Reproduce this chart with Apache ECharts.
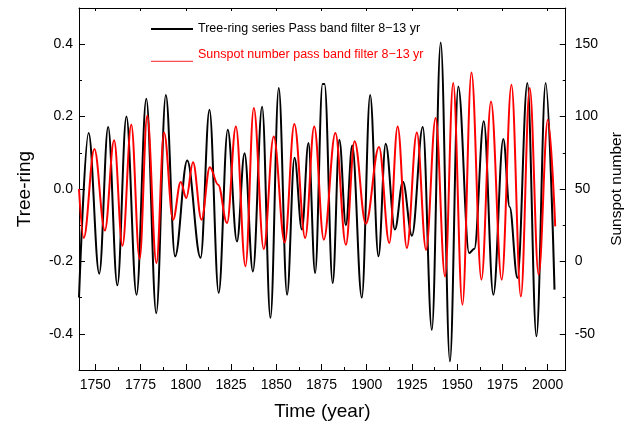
<!DOCTYPE html>
<html>
<head>
<meta charset="utf-8">
<script src="https://cdn.jsdelivr.net/npm/echarts@6/dist/echarts.min.js"></script>
<style>html,body{margin:0;padding:0;background:#fff}#c{width:633px;height:426px}</style>
</head>
<body>
<div id="c"></div>
<script>
// Tree-ring series (left axis), turning points
const treeYears = [1741,1746.3,1752.2,1757.1,1762.2,1767.2,1772.8,1778.2,1783.7,1789.0,1794.1,1800.8,1808.2,1813.1,1818.2,1823.2,1828.3,1832.5,1837.1,1842.2,1846.8,1851.4,1856.0,1860.1,1864.2,1867.8,1871.5,1875.6,1876.7,1881.2,1884.9,1888.5,1892.0,1897.3,1901.9,1906.5,1910.5,1915.6,1920.0,1925.0,1931.0,1936.0,1940.9,1946.0,1950.6,1956.6,1959.5,1964.7,1970.0,1975.5,1979.0,1983.3,1988.8,1993.8,1998.9,2003.8];
const treeVals  = [-0.30,0.155,-0.234,0.171,-0.266,0.20,-0.292,0.249,-0.343,0.26,-0.186,0.079,-0.19,0.219,-0.287,0.164,-0.145,0.099,-0.228,0.227,-0.356,0.279,-0.292,0.086,-0.112,0.127,-0.232,0.29,0.29,-0.26,0.136,-0.10,0.12,-0.30,0.26,-0.186,0.125,-0.112,0.02,-0.129,0.171,-0.389,0.405,-0.476,0.283,-0.177,-0.165,0.187,-0.292,0.138,-0.05,-0.246,0.293,-0.407,0.293,-0.278];
// Sunspot number series (right axis)
const sunYears = [1741,1743.6,1749.5,1755.3,1760.4,1765.0,1769.9,1774.5,1778.7,1783.8,1788.0,1793.0,1797.2,1800.3,1804.0,1808.7,1813.3,1817.9,1822.8,1827.7,1833.0,1837.6,1843.1,1848.6,1854.7,1860.0,1866.0,1871.0,1876.3,1882.7,1888.5,1893.3,1899.5,1906.8,1912.5,1917.1,1922.2,1927.7,1932.8,1938.1,1943.3,1947.8,1952.9,1957.9,1963.4,1968.7,1974.6,1980.0,1985.2,1990.1,1995.0,2000.1,2004.2];
const sunVals  = [50,16.2,77.6,21.4,83.6,10.8,94.4,1.7,100.6,-1.1,89,28.8,54.8,43.8,68.4,28.8,65,53,26.5,93.2,-3.4,106,8.6,86.3,13.1,94.9,16.2,93.2,15,88.7,11.5,82.9,26,79,12.7,93.2,9.3,89,8.1,99,-10.4,123.2,-29.9,130.5,-12.6,110.5,-12.6,122,-24.2,119.7,-9.2,97.9,24.2];
// Tick values
const xMajor = [1750,1775,1800,1825,1850,1875,1900,1925,1950,1975,2000];
const xMinor = [1762.5,1787.5,1812.5,1837.5,1862.5,1887.5,1912.5,1937.5,1962.5,1987.5];
const yLeftMajor = [-0.4,-0.2,0,0.2,0.4];
const yLeftMinor = [-0.3,-0.1,0.1,0.3];
const yRightMajor = [-50,0,50,100,150];
const yRightMinor = [-25,25,75,125];

const treeName = 'Tree-ring series Pass band filter 8\u221213 yr';
const sunName = 'Sunspot number pass band filter 8\u221213 yr';
const FF = 'Liberation Sans, Arial, sans-serif';
const line = {lineStyle:{color:'#000',width:1}};

function xAx(pos, ticks, len, showLine, labels) {
  return {type:'value', gridIndex:0, position:pos, min:1741, max:2010,
    axisLine:{show:showLine, onZero:false, ...line}, splitLine:{show:false},
    axisTick:{show:true, inside:true, length:len, customValues:ticks, lineStyle:{color:'#000',width:1}},
    axisLabel: labels ? {show:true, customValues:ticks, fontSize:14, color:'#000', fontFamily:FF, margin:8, formatter:v => String(v)} : {show:false}};
}
function yAx(pos, min, max, ticks, len, showLine, labels, fmt) {
  return {type:'value', gridIndex:0, position:pos, min:min, max:max,
    axisLine:{show:showLine, onZero:false, ...line}, splitLine:{show:false},
    axisTick:{show:true, inside:true, length:len, customValues:ticks, lineStyle:{color:'#000',width:1}},
    axisLabel: labels ? {show:true, customValues:ticks, fontSize:14, color:'#000', fontFamily:FF, margin:pos==='left'?6:9, formatter:fmt} : {show:false}};
}

const xa0 = xAx('bottom', xMajor, 6, true, true);
Object.assign(xa0, {name:'Time (year)', nameLocation:'middle', nameGap:32, nameTextStyle:{fontSize:19, color:'#000', fontFamily:FF}});
const xa1 = xAx('bottom', xMinor, 3, false, false);
const xa2 = xAx('top', xMajor, 3, true, false);

const ya0 = yAx('left', -0.5, 0.5, yLeftMajor, 6, true, true, v => v.toFixed(1));
Object.assign(ya0, {name:'Tree-ring', nameLocation:'middle', nameGap:45, nameTextStyle:{fontSize:19, color:'#000', fontFamily:FF}});
const ya1 = yAx('left', -0.5, 0.5, yLeftMinor, 3, false, false);
const ya2 = yAx('right', -75, 175, yRightMajor, 6, true, true, v => String(v));
Object.assign(ya2, {name:'Sunspot number', nameLocation:'middle', nameGap:38, nameTextStyle:{fontSize:15.5, color:'#000', fontFamily:FF}});
const ya3 = yAx('right', -75, 175, yRightMinor, 3, false, false);

const dot0 = 'M0,0L0.01,0L0,0.01Z M0,14L0.01,14L0,13.99Z ';
const chart = echarts.init(document.getElementById('c'), null, {renderer:'canvas'});
chart.setOption({
  animation:false,
  backgroundColor:'#fff',
  grid:{left:79, right:64, top:8, bottom:55, containLabel:false},
  legend:{orient:'vertical', left:151, top:22, padding:0, itemWidth:42, itemHeight:14, itemGap:12,
    textStyle:{fontSize:12.5, color:'#000', fontFamily:FF},
    data:[
      {name:treeName, icon:'path://' + dot0 + 'M0,6L42,6L42,8L0,8Z', itemStyle:{color:'#000'}},
      {name:sunName, icon:'path://' + dot0 + 'M0,12.8L42,12.8L42,14L0,14Z', itemStyle:{color:'#ff5050'}, textStyle:{color:'#ff0000'}}
    ]},
  xAxis:[xa0, xa1, xa2],
  yAxis:[ya0, ya1, ya2, ya3],
  series:[
    {name:treeName, type:'line', xAxisIndex:0, yAxisIndex:0, showSymbol:false, symbol:'none',
     smooth:0.37, smoothMonotone:'x', lineStyle:{color:'#000', width:2}, itemStyle:{color:'#000'},
     data: treeYears.map((y,i)=>[y, treeVals[i]])},
    {name:sunName, type:'line', xAxisIndex:0, yAxisIndex:2, showSymbol:false, symbol:'none',
     smooth:0.37, smoothMonotone:'x', lineStyle:{color:'#ff0000', width:2}, itemStyle:{color:'#ff0000'},
     data: sunYears.map((y,i)=>[y, sunVals[i]])}
  ]
});
</script>
</body>
</html>
